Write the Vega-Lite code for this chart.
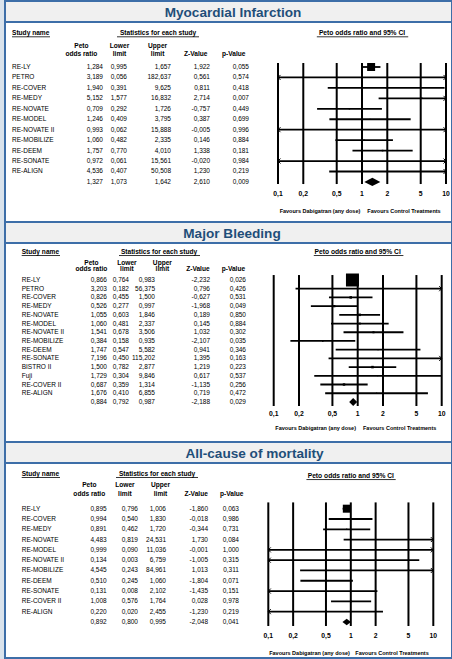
{
"$schema": "https://vega.github.io/schema/vega-lite/v6.json",
"background": "#dae3ec",
"padding": {"left": 4, "top": 0, "right": 0, "bottom": 0},
"spacing": 0,
"bounds": "flush",
"resolve": {"scale": {"size": "independent"}},
"config": {
  "view": {"stroke": null},
  "text": {"font": "Liberation Sans", "fontSize": 6.5, "color": "black"},
  "rule": {"color": "black"},
  "point": {"color": "black"},
  "square": {"color": "black"},
  "locale": {"number": {"decimal": ",", "thousands": ".", "grouping": [3], "currency": ["", " €"], "minus": "-"}}
},
"datasets": {
  "cols": [{"col":"or","line1":"Peto","line2":"odds ratio"},{"col":"lower","line1":"Lower","line2":"limit"},{"col":"upper","line1":"Upper","line2":"limit"},{"col":"z","line1":"","line2":"Z-Value"},{"col":"p","line1":"","line2":"p-Value"}],
  "ticks": [{"v":0.1},{"v":0.2},{"v":0.5},{"v":1},{"v":2},{"v":5},{"v":10}],
  "mi": [
    {"row":0,"study":"RE-LY","or":1.284,"lower":0.995,"upper":1.657,"z":1.922,"p":0.055,"weight":85},
    {"row":1,"study":"PETRO","or":3.189,"lower":0.056,"upper":182.637,"z":0.561,"p":0.574,"weight":0.3},
    {"row":2,"study":"RE-COVER","or":1.940,"lower":0.391,"upper":9.625,"z":0.811,"p":0.418,"weight":1.5},
    {"row":3,"study":"RE-MEDY","or":5.152,"lower":1.577,"upper":16.832,"z":2.714,"p":0.007,"weight":3},
    {"row":4,"study":"RE-NOVATE","or":0.709,"lower":0.292,"upper":1.726,"z":-0.757,"p":0.449,"weight":2.5},
    {"row":5,"study":"RE-MODEL","or":1.246,"lower":0.409,"upper":3.795,"z":0.387,"p":0.699,"weight":1.5},
    {"row":6,"study":"RE-NOVATE II","or":0.993,"lower":0.062,"upper":15.888,"z":-0.005,"p":0.996,"weight":0.3},
    {"row":7,"study":"RE-MOBILIZE","or":1.060,"lower":0.482,"upper":2.335,"z":0.146,"p":0.884,"weight":3},
    {"row":8,"study":"RE-DEEM","or":1.757,"lower":0.770,"upper":4.010,"z":1.338,"p":0.181,"weight":3.5},
    {"row":9,"study":"RE-SONATE","or":0.972,"lower":0.061,"upper":15.561,"z":-0.020,"p":0.984,"weight":0.3},
    {"row":10,"study":"RE-ALIGN","or":4.536,"lower":0.407,"upper":50.508,"z":1.230,"p":0.219,"weight":0.6},
    {"row":11,"study":"","or":1.327,"lower":1.073,"upper":1.642,"z":2.610,"p":0.009,"pooled":true}
  ],
  "mb": [
    {"row":0,"study":"RE-LY","or":0.866,"lower":0.764,"upper":0.983,"z":-2.232,"p":0.026,"weight":80},
    {"row":1,"study":"PETRO","or":3.203,"lower":0.182,"upper":56.375,"z":0.796,"p":0.426,"weight":0.3},
    {"row":2,"study":"RE-COVER","or":0.826,"lower":0.455,"upper":1.500,"z":-0.627,"p":0.531,"weight":3},
    {"row":3,"study":"RE-MEDY","or":0.526,"lower":0.277,"upper":0.997,"z":-1.968,"p":0.049,"weight":2.5},
    {"row":4,"study":"RE-NOVATE","or":1.055,"lower":0.603,"upper":1.846,"z":0.189,"p":0.850,"weight":3},
    {"row":5,"study":"RE-MODEL","or":1.060,"lower":0.481,"upper":2.337,"z":0.145,"p":0.884,"weight":1.8},
    {"row":6,"study":"RE-NOVATE II","or":1.541,"lower":0.678,"upper":3.506,"z":1.032,"p":0.302,"weight":2},
    {"row":7,"study":"RE-MOBILIZE","or":0.384,"lower":0.158,"upper":0.935,"z":-2.107,"p":0.035,"weight":1.2},
    {"row":8,"study":"RE-DEEM","or":1.747,"lower":0.547,"upper":5.582,"z":0.941,"p":0.346,"weight":0.9},
    {"row":9,"study":"RE-SONATE","or":7.196,"lower":0.450,"upper":115.202,"z":1.395,"p":0.163,"weight":0.2},
    {"row":10,"study":"BISTRO II","or":1.500,"lower":0.782,"upper":2.877,"z":1.219,"p":0.223,"weight":3},
    {"row":11,"study":"Fuji","or":1.729,"lower":0.304,"upper":9.846,"z":0.617,"p":0.537,"weight":0.5},
    {"row":12,"study":"RE-COVER II","or":0.687,"lower":0.359,"upper":1.314,"z":-1.135,"p":0.256,"weight":2.8},
    {"row":13,"study":"RE-ALIGN","or":1.676,"lower":0.410,"upper":6.855,"z":0.719,"p":0.472,"weight":0.7},
    {"row":14,"study":"","or":0.884,"lower":0.792,"upper":0.987,"z":-2.188,"p":0.029,"pooled":true}
  ],
  "ac": [
    {"row":0,"study":"RE-LY","or":0.895,"lower":0.796,"upper":1.006,"z":-1.860,"p":0.063,"weight":88},
    {"row":1,"study":"RE-COVER","or":0.994,"lower":0.540,"upper":1.830,"z":-0.018,"p":0.986,"weight":3},
    {"row":2,"study":"RE-MEDY","or":0.891,"lower":0.462,"upper":1.720,"z":-0.344,"p":0.731,"weight":2.5},
    {"row":3,"study":"RE-NOVATE","or":4.483,"lower":0.819,"upper":24.531,"z":1.730,"p":0.084,"weight":0.5},
    {"row":4,"study":"RE-MODEL","or":0.999,"lower":0.090,"upper":11.036,"z":-0.001,"p":1.000,"weight":0.2},
    {"row":5,"study":"RE-NOVATE II","or":0.134,"lower":0.003,"upper":6.759,"z":-1.005,"p":0.315,"weight":0.1},
    {"row":6,"study":"RE-MOBILIZE","or":4.545,"lower":0.243,"upper":84.961,"z":1.013,"p":0.311,"weight":0.2},
    {"row":7,"study":"RE-DEEM","or":0.510,"lower":0.245,"upper":1.060,"z":-1.804,"p":0.071,"weight":2},
    {"row":8,"study":"RE-SONATE","or":0.131,"lower":0.008,"upper":2.102,"z":-1.435,"p":0.151,"weight":0.2},
    {"row":9,"study":"RE-COVER II","or":1.008,"lower":0.576,"upper":1.764,"z":0.028,"p":0.978,"weight":3.5},
    {"row":10,"study":"RE-ALIGN","or":0.220,"lower":0.020,"upper":2.455,"z":-1.230,"p":0.219,"weight":0.3},
    {"row":11,"study":"","or":0.892,"lower":0.800,"upper":0.995,"z":-2.048,"p":0.041,"pooled":true}
  ]
},
"vconcat": [
  {
    "width": 447, "height": 21,
    "view": {"fill": "#f0f0f0", "stroke": "#3d6ea8", "strokeWidth": 2},
    "data": {"values": [{"title": "Myocardial Infarction"}]},
    "mark": {"type": "text", "fontSize": 13.6, "fontWeight": "bold", "color": "#1f4e79", "dx": 4.5, "dy": 1},
    "encoding": {"text": {"field": "title"}}
  },
  {
    "width": 447, "height": 200,
    "view": {"fill": "white", "stroke": "#3d6ea8", "strokeWidth": 2},
    "data": {"name": "mi"},
    "resolve": {"scale": {"x": "independent"}},
    "layer": [
      {"layer": [
        {"mark": {"type": "text", "align": "left", "dx": -69.4},
         "encoding": {"x": {"datum": "or", "type": "nominal", "axis": null, "scale": {"type": "point", "domain": ["or","lower","upper","z","p"], "range": [76.4, 228.8], "padding": 0}},
                      "y": {"field": "row", "type": "quantitative", "axis": null, "scale": {"domain": [-4.306, 14.833], "reverse": true, "nice": false, "zero": false}},
                      "text": {"field": "study"}}},
        {"mark": {"type": "text", "align": "right", "dx": 21.6}, "encoding": {"x": {"datum": "or", "type": "nominal"}, "y": {"field": "row", "type": "quantitative"}, "text": {"field": "or", "type": "quantitative", "format": ".3f"}}},
        {"mark": {"type": "text", "align": "right", "dx": 7.5}, "encoding": {"x": {"datum": "lower", "type": "nominal"}, "y": {"field": "row", "type": "quantitative"}, "text": {"field": "lower", "type": "quantitative", "format": ".3f"}}},
        {"mark": {"type": "text", "align": "right", "dx": 13.4}, "encoding": {"x": {"datum": "upper", "type": "nominal"}, "y": {"field": "row", "type": "quantitative"}, "text": {"field": "upper", "type": "quantitative", "format": ".3f"}}},
        {"mark": {"type": "text", "align": "right", "dx": 14.3}, "encoding": {"x": {"datum": "z", "type": "nominal"}, "y": {"field": "row", "type": "quantitative"}, "text": {"field": "z", "type": "quantitative", "format": ".3f"}}},
        {"mark": {"type": "text", "align": "right", "dx": 15.2}, "encoding": {"x": {"datum": "p", "type": "nominal"}, "y": {"field": "row", "type": "quantitative"}, "text": {"field": "p", "type": "quantitative", "format": ".3f"}}},
        {"data": {"name": "cols"}, "mark": {"type": "text", "fontWeight": "bold", "fontSize": 6.6},
         "encoding": {"x": {"field": "col", "type": "nominal"}, "y": {"datum": -2.01, "type": "quantitative"}, "text": {"field": "line1"}}},
        {"data": {"name": "cols"}, "mark": {"type": "text", "fontWeight": "bold", "fontSize": 6.6},
         "encoding": {"x": {"field": "col", "type": "nominal"}, "y": {"datum": -1.215, "type": "quantitative"}, "text": {"field": "line2"}}},
        {"data": {"values": [{"t": "Study name"}]}, "mark": {"type": "text", "align": "left", "fontWeight": "bold", "fontSize": 6.6, "dx": -69.4},
         "encoding": {"x": {"datum": "or", "type": "nominal"}, "y": {"datum": -3.25, "type": "quantitative"}, "text": {"field": "t"}}},
        {"data": {"values": [{"t": "Statistics for each study"}]}, "mark": {"type": "text", "fontWeight": "bold", "fontSize": 6.6, "dx": 0.4},
         "encoding": {"x": {"datum": "upper", "type": "nominal"}, "y": {"datum": -3.25, "type": "quantitative"}, "text": {"field": "t"}}},
        {"data": {"values": [{"t": "Study name"}]}, "mark": {"type": "rule", "strokeWidth": 0.8, "xOffset": -69.4, "x2Offset": -31.4},
         "encoding": {"x": {"datum": "or", "type": "nominal"}, "x2": {"datum": "or"}, "y": {"datum": -2.89, "type": "quantitative"}}},
        {"data": {"values": [{"t": "Statistics for each study"}]}, "mark": {"type": "rule", "strokeWidth": 0.8, "xOffset": -40.6, "x2Offset": 41.4},
         "encoding": {"x": {"datum": "upper", "type": "nominal"}, "x2": {"datum": "upper"}, "y": {"datum": -2.89, "type": "quantitative"}}}
      ]},
      {"layer": [
        {"data": {"name": "ticks"}, "mark": {"type": "rule", "strokeWidth": 2},
         "encoding": {"x": {"field": "v", "type": "quantitative", "axis": null, "scale": {"type": "log", "domain": [0.1, 10], "range": [273, 441], "clamp": true, "nice": false}},
                      "y": {"datum": -0.38, "type": "quantitative"}, "y2": {"datum": 11.2}}},
        {"data": {"name": "ticks"}, "mark": {"type": "text", "fontWeight": "bold", "fontSize": 6.8},
         "encoding": {"x": {"field": "v", "type": "quantitative"}, "y": {"datum": 12.15, "type": "quantitative"}, "text": {"field": "v", "type": "quantitative", "format": "~g"}}},
        {"data": {"values": [{"t": "Favours Dabigatran (any dose)"}]}, "mark": {"type": "text", "fontWeight": "bold", "fontSize": 5.5},
         "encoding": {"x": {"datum": 0.316, "type": "quantitative"}, "y": {"datum": 13.78, "type": "quantitative"}, "text": {"field": "t"}}},
        {"data": {"values": [{"t": "Favours Control Treatments"}]}, "mark": {"type": "text", "fontWeight": "bold", "fontSize": 5.5},
         "encoding": {"x": {"datum": 3.16, "type": "quantitative"}, "y": {"datum": 13.78, "type": "quantitative"}, "text": {"field": "t"}}},
        {"data": {"values": [{"t": "Peto odds ratio and 95% CI"}]}, "mark": {"type": "text", "fontWeight": "bold", "fontSize": 6.7},
         "encoding": {"x": {"datum": 1, "type": "quantitative"}, "y": {"datum": -3.25, "type": "quantitative"}, "text": {"field": "t"}}},
        {"data": {"values": [{"t": "Peto odds ratio and 95% CI"}]}, "mark": {"type": "rule", "strokeWidth": 0.8},
         "encoding": {"x": {"datum": 0.29, "type": "quantitative"}, "x2": {"datum": 3.55}, "y": {"datum": -2.89, "type": "quantitative"}}},
        {"transform": [{"filter": "!datum.pooled"}], "mark": {"type": "rule", "strokeWidth": 1.8},
         "encoding": {"x": {"field": "lower", "type": "quantitative"}, "x2": {"field": "upper"}, "y": {"field": "row", "type": "quantitative"}}},
        {"transform": [{"filter": "!datum.pooled && datum.lower < 0.1"}], "mark": {"type": "point", "shape": "M1,-1L0,0L1,1", "filled": false, "strokeWidth": 1, "size": 25, "opacity": 1},
         "encoding": {"x": {"datum": 0.1, "type": "quantitative"}, "y": {"field": "row", "type": "quantitative"}}},
        {"transform": [{"filter": "!datum.pooled && datum.upper > 10"}], "mark": {"type": "point", "shape": "M-1,-1L0,0L-1,1", "filled": false, "strokeWidth": 1, "size": 25, "opacity": 1},
         "encoding": {"x": {"datum": 10, "type": "quantitative"}, "y": {"field": "row", "type": "quantitative"}}},
        {"transform": [{"filter": "!datum.pooled"}], "mark": {"type": "square", "opacity": 1},
         "encoding": {"x": {"field": "or", "type": "quantitative"}, "y": {"field": "row", "type": "quantitative"}, "size": {"field": "weight", "type": "quantitative", "legend": null, "scale": {"domain": [0, 100], "range": [0, 75]}}}},
        {"transform": [{"filter": "datum.pooled"}], "mark": {"type": "point", "shape": "M-1,0L0,-0.52L1,0L0,0.52Z", "filled": true, "size": 256, "opacity": 1},
         "encoding": {"x": {"field": "or", "type": "quantitative"}, "y": {"field": "row", "type": "quantitative"}}}
      ]}
    ]
  },
  {
    "width": 447, "height": 21,
    "view": {"fill": "#f0f0f0", "stroke": "#3d6ea8", "strokeWidth": 2},
    "data": {"values": [{"title": "Major Bleeding"}]},
    "mark": {"type": "text", "fontSize": 13.6, "fontWeight": "bold", "color": "#1f4e79", "dx": 3.5, "dy": 1},
    "encoding": {"text": {"field": "title"}}
  },
  {
    "width": 447, "height": 199,
    "view": {"fill": "white", "stroke": "#3d6ea8", "strokeWidth": 2},
    "data": {"name": "mb"},
    "resolve": {"scale": {"x": "independent"}},
    "layer": [
      {"layer": [
        {"mark": {"type": "text", "align": "left", "dx": -69.7},
         "encoding": {"x": {"datum": "or", "type": "nominal", "axis": null, "scale": {"type": "point", "domain": ["or","lower","upper","z","p"], "range": [86.4, 228.4], "padding": 0}},
                      "y": {"field": "row", "type": "quantitative", "axis": null, "scale": {"domain": [-4.248, 18.6], "reverse": true, "nice": false, "zero": false}},
                      "text": {"field": "study"}}},
        {"mark": {"type": "text", "align": "right", "dx": 15.6}, "encoding": {"x": {"datum": "or", "type": "nominal"}, "y": {"field": "row", "type": "quantitative"}, "text": {"field": "or", "type": "quantitative", "format": ".3f"}}},
        {"mark": {"type": "text", "align": "right", "dx": 2.1}, "encoding": {"x": {"datum": "lower", "type": "nominal"}, "y": {"field": "row", "type": "quantitative"}, "text": {"field": "lower", "type": "quantitative", "format": ".3f"}}},
        {"mark": {"type": "text", "align": "right", "dx": -7.4}, "encoding": {"x": {"datum": "upper", "type": "nominal"}, "y": {"field": "row", "type": "quantitative"}, "text": {"field": "upper", "type": "quantitative", "format": ".3f"}}},
        {"mark": {"type": "text", "align": "right", "dx": 12.1}, "encoding": {"x": {"datum": "z", "type": "nominal"}, "y": {"field": "row", "type": "quantitative"}, "text": {"field": "z", "type": "quantitative", "format": ".3f"}}},
        {"mark": {"type": "text", "align": "right", "dx": 12.6}, "encoding": {"x": {"datum": "p", "type": "nominal"}, "y": {"field": "row", "type": "quantitative"}, "text": {"field": "p", "type": "quantitative", "format": ".3f"}}},
        {"data": {"name": "cols"}, "mark": {"type": "text", "fontWeight": "bold", "fontSize": 6.6},
         "encoding": {"x": {"field": "col", "type": "nominal"}, "y": {"datum": -1.99, "type": "quantitative"}, "text": {"field": "line1"}}},
        {"data": {"name": "cols"}, "mark": {"type": "text", "fontWeight": "bold", "fontSize": 6.6},
         "encoding": {"x": {"field": "col", "type": "nominal"}, "y": {"datum": -1.23, "type": "quantitative"}, "text": {"field": "line2"}}},
        {"data": {"values": [{"t": "Study name"}]}, "mark": {"type": "text", "align": "left", "fontWeight": "bold", "fontSize": 6.6, "dx": -69.7},
         "encoding": {"x": {"datum": "or", "type": "nominal"}, "y": {"datum": -3.21, "type": "quantitative"}, "text": {"field": "t"}}},
        {"data": {"values": [{"t": "Statistics for each study"}]}, "mark": {"type": "text", "fontWeight": "bold", "fontSize": 6.6, "dx": -3.4},
         "encoding": {"x": {"datum": "upper", "type": "nominal"}, "y": {"datum": -3.21, "type": "quantitative"}, "text": {"field": "t"}}},
        {"data": {"values": [{"t": "Study name"}]}, "mark": {"type": "rule", "strokeWidth": 0.8, "xOffset": -69.7, "x2Offset": -31.4},
         "encoding": {"x": {"datum": "or", "type": "nominal"}, "x2": {"datum": "or"}, "y": {"datum": -2.81, "type": "quantitative"}}},
        {"data": {"values": [{"t": "Statistics for each study"}]}, "mark": {"type": "rule", "strokeWidth": 0.8, "xOffset": -43.4, "x2Offset": 37.6},
         "encoding": {"x": {"datum": "upper", "type": "nominal"}, "x2": {"datum": "upper"}, "y": {"datum": -2.81, "type": "quantitative"}}}
      ]},
      {"layer": [
        {"data": {"name": "ticks"}, "mark": {"type": "rule", "strokeWidth": 2},
         "encoding": {"x": {"field": "v", "type": "quantitative", "axis": null, "scale": {"type": "log", "domain": [0.1, 10], "range": [268.7, 436.7], "clamp": true, "nice": false}},
                      "y": {"datum": -0.57, "type": "quantitative"}, "y2": {"datum": 14.47}}},
        {"data": {"name": "ticks"}, "mark": {"type": "text", "fontWeight": "bold", "fontSize": 6.8},
         "encoding": {"x": {"field": "v", "type": "quantitative"}, "y": {"datum": 15.35, "type": "quantitative"}, "text": {"field": "v", "type": "quantitative", "format": "~g"}}},
        {"data": {"values": [{"t": "Favours Dabigatran (any dose)"}]}, "mark": {"type": "text", "fontWeight": "bold", "fontSize": 5.5},
         "encoding": {"x": {"datum": 0.316, "type": "quantitative"}, "y": {"datum": 17.0, "type": "quantitative"}, "text": {"field": "t"}}},
        {"data": {"values": [{"t": "Favours Control Treatments"}]}, "mark": {"type": "text", "fontWeight": "bold", "fontSize": 5.5},
         "encoding": {"x": {"datum": 3.16, "type": "quantitative"}, "y": {"datum": 17.0, "type": "quantitative"}, "text": {"field": "t"}}},
        {"data": {"values": [{"t": "Peto odds ratio and 95% CI"}]}, "mark": {"type": "text", "fontWeight": "bold", "fontSize": 6.7},
         "encoding": {"x": {"datum": 1, "type": "quantitative"}, "y": {"datum": -3.21, "type": "quantitative"}, "text": {"field": "t"}}},
        {"data": {"values": [{"t": "Peto odds ratio and 95% CI"}]}, "mark": {"type": "rule", "strokeWidth": 0.8},
         "encoding": {"x": {"datum": 0.3, "type": "quantitative"}, "x2": {"datum": 3.5}, "y": {"datum": -2.81, "type": "quantitative"}}},
        {"transform": [{"filter": "!datum.pooled"}], "mark": {"type": "rule", "strokeWidth": 1.8},
         "encoding": {"x": {"field": "lower", "type": "quantitative"}, "x2": {"field": "upper"}, "y": {"field": "row", "type": "quantitative"}}},
        {"transform": [{"filter": "!datum.pooled && datum.lower < 0.1"}], "mark": {"type": "point", "shape": "M1,-1L0,0L1,1", "filled": false, "strokeWidth": 1, "size": 25, "opacity": 1},
         "encoding": {"x": {"datum": 0.1, "type": "quantitative"}, "y": {"field": "row", "type": "quantitative"}}},
        {"transform": [{"filter": "!datum.pooled && datum.upper > 10"}], "mark": {"type": "point", "shape": "M-1,-1L0,0L-1,1", "filled": false, "strokeWidth": 1, "size": 25, "opacity": 1},
         "encoding": {"x": {"datum": 10, "type": "quantitative"}, "y": {"field": "row", "type": "quantitative"}}},
        {"transform": [{"filter": "!datum.pooled"}], "mark": {"type": "square", "opacity": 1},
         "encoding": {"x": {"field": "or", "type": "quantitative"}, "y": {"field": "row", "type": "quantitative"}, "size": {"field": "weight", "type": "quantitative", "legend": null, "scale": {"domain": [0, 100], "range": [0, 211]}}}},
        {"transform": [{"filter": "datum.pooled"}], "mark": {"type": "point", "shape": "M-1,0L0,-1L1,0L0,1Z", "filled": true, "size": 64, "opacity": 1},
         "encoding": {"x": {"field": "or", "type": "quantitative"}, "y": {"field": "row", "type": "quantitative"}}}
      ]}
    ]
  },
  {
    "width": 447, "height": 21,
    "view": {"fill": "#f0f0f0", "stroke": "#3d6ea8", "strokeWidth": 2},
    "data": {"values": [{"title": "All-cause of mortality"}]},
    "mark": {"type": "text", "fontSize": 13.6, "fontWeight": "bold", "color": "#1f4e79", "dx": 26, "dy": 1},
    "encoding": {"text": {"field": "title"}}
  },
  {
    "width": 447, "height": 195,
    "view": {"fill": "white", "stroke": "#3d6ea8", "strokeWidth": 2},
    "data": {"name": "ac"},
    "resolve": {"scale": {"x": "independent"}},
    "layer": [
      {"layer": [
        {"mark": {"type": "text", "align": "left", "dx": -67.6},
         "encoding": {"x": {"datum": "or", "type": "nominal", "axis": null, "scale": {"type": "point", "domain": ["or","lower","upper","z","p"], "range": [84.3, 226.7], "padding": 0}},
                      "y": {"field": "row", "type": "quantitative", "axis": null, "scale": {"domain": [-4.437, 14.5], "reverse": true, "nice": false, "zero": false}},
                      "text": {"field": "study"}}},
        {"mark": {"type": "text", "align": "right", "dx": 17.4}, "encoding": {"x": {"datum": "or", "type": "nominal"}, "y": {"field": "row", "type": "quantitative"}, "text": {"field": "or", "type": "quantitative", "format": ".3f"}}},
        {"mark": {"type": "text", "align": "right", "dx": 13.1}, "encoding": {"x": {"datum": "lower", "type": "nominal"}, "y": {"field": "row", "type": "quantitative"}, "text": {"field": "lower", "type": "quantitative", "format": ".3f"}}},
        {"mark": {"type": "text", "align": "right", "dx": 5.5}, "encoding": {"x": {"datum": "upper", "type": "nominal"}, "y": {"field": "row", "type": "quantitative"}, "text": {"field": "upper", "type": "quantitative", "format": ".3f"}}},
        {"mark": {"type": "text", "align": "right", "dx": 11.9}, "encoding": {"x": {"datum": "z", "type": "nominal"}, "y": {"field": "row", "type": "quantitative"}, "text": {"field": "z", "type": "quantitative", "format": ".3f"}}},
        {"mark": {"type": "text", "align": "right", "dx": 7.3}, "encoding": {"x": {"datum": "p", "type": "nominal"}, "y": {"field": "row", "type": "quantitative"}, "text": {"field": "p", "type": "quantitative", "format": ".3f"}}},
        {"data": {"name": "cols"}, "mark": {"type": "text", "fontWeight": "bold", "fontSize": 6.6},
         "encoding": {"x": {"field": "col", "type": "nominal"}, "y": {"datum": -2.27, "type": "quantitative"}, "text": {"field": "line1"}}},
        {"data": {"name": "cols"}, "mark": {"type": "text", "fontWeight": "bold", "fontSize": 6.6},
         "encoding": {"x": {"field": "col", "type": "nominal"}, "y": {"datum": -1.4, "type": "quantitative"}, "text": {"field": "line2"}}},
        {"data": {"values": [{"t": "Study name"}]}, "mark": {"type": "text", "align": "left", "fontWeight": "bold", "fontSize": 6.6, "dx": -67.6},
         "encoding": {"x": {"datum": "or", "type": "nominal"}, "y": {"datum": -3.37, "type": "quantitative"}, "text": {"field": "t"}}},
        {"data": {"values": [{"t": "Statistics for each study"}]}, "mark": {"type": "text", "fontWeight": "bold", "fontSize": 6.6, "dx": -3.5},
         "encoding": {"x": {"datum": "upper", "type": "nominal"}, "y": {"datum": -3.37, "type": "quantitative"}, "text": {"field": "t"}}},
        {"data": {"values": [{"t": "Study name"}]}, "mark": {"type": "rule", "strokeWidth": 0.8, "xOffset": -67.6, "x2Offset": -29.3},
         "encoding": {"x": {"datum": "or", "type": "nominal"}, "x2": {"datum": "or"}, "y": {"datum": -3.03, "type": "quantitative"}}},
        {"data": {"values": [{"t": "Statistics for each study"}]}, "mark": {"type": "rule", "strokeWidth": 0.8, "xOffset": -44.5, "x2Offset": 37.5},
         "encoding": {"x": {"datum": "upper", "type": "nominal"}, "x2": {"datum": "upper"}, "y": {"datum": -3.03, "type": "quantitative"}}}
      ]},
      {"layer": [
        {"data": {"name": "ticks"}, "mark": {"type": "rule", "strokeWidth": 2},
         "encoding": {"x": {"field": "v", "type": "quantitative", "axis": null, "scale": {"type": "log", "domain": [0.1, 10], "range": [263.3, 428.3], "clamp": true, "nice": false}},
                      "y": {"datum": -0.61, "type": "quantitative"}, "y2": {"datum": 11.39}}},
        {"data": {"name": "ticks"}, "mark": {"type": "text", "fontWeight": "bold", "fontSize": 6.8},
         "encoding": {"x": {"field": "v", "type": "quantitative"}, "y": {"datum": 12.36, "type": "quantitative"}, "text": {"field": "v", "type": "quantitative", "format": "~g"}}},
        {"data": {"values": [{"t": "Favours Dabigatran (any dose)"}]}, "mark": {"type": "text", "fontWeight": "bold", "fontSize": 5.5},
         "encoding": {"x": {"datum": 0.316, "type": "quantitative"}, "y": {"datum": 13.98, "type": "quantitative"}, "text": {"field": "t"}}},
        {"data": {"values": [{"t": "Favours Control Treatments"}]}, "mark": {"type": "text", "fontWeight": "bold", "fontSize": 5.5},
         "encoding": {"x": {"datum": 3.16, "type": "quantitative"}, "y": {"datum": 13.98, "type": "quantitative"}, "text": {"field": "t"}}},
        {"data": {"values": [{"t": "Peto odds ratio and 95% CI"}]}, "mark": {"type": "text", "fontWeight": "bold", "fontSize": 6.7},
         "encoding": {"x": {"datum": 1, "type": "quantitative"}, "y": {"datum": -3.17, "type": "quantitative"}, "text": {"field": "t"}}},
        {"data": {"values": [{"t": "Peto odds ratio and 95% CI"}]}, "mark": {"type": "rule", "strokeWidth": 0.8},
         "encoding": {"x": {"datum": 0.29, "type": "quantitative"}, "x2": {"datum": 3.5}, "y": {"datum": -2.83, "type": "quantitative"}}},
        {"transform": [{"filter": "!datum.pooled"}], "mark": {"type": "rule", "strokeWidth": 1.8},
         "encoding": {"x": {"field": "lower", "type": "quantitative"}, "x2": {"field": "upper"}, "y": {"field": "row", "type": "quantitative"}}},
        {"transform": [{"filter": "!datum.pooled && datum.lower < 0.1"}], "mark": {"type": "point", "shape": "M1,-1L0,0L1,1", "filled": false, "strokeWidth": 1, "size": 25, "opacity": 1},
         "encoding": {"x": {"datum": 0.1, "type": "quantitative"}, "y": {"field": "row", "type": "quantitative"}}},
        {"transform": [{"filter": "!datum.pooled && datum.upper > 10"}], "mark": {"type": "point", "shape": "M-1,-1L0,0L-1,1", "filled": false, "strokeWidth": 1, "size": 25, "opacity": 1},
         "encoding": {"x": {"datum": 10, "type": "quantitative"}, "y": {"field": "row", "type": "quantitative"}}},
        {"transform": [{"filter": "!datum.pooled"}], "mark": {"type": "square", "opacity": 1},
         "encoding": {"x": {"field": "or", "type": "quantitative"}, "y": {"field": "row", "type": "quantitative"}, "size": {"field": "weight", "type": "quantitative", "legend": null, "scale": {"domain": [0, 100], "range": [0, 73]}}}},
        {"transform": [{"filter": "datum.pooled"}], "mark": {"type": "point", "shape": "M-1,0L0,-0.76L1,0L0,0.76Z", "filled": true, "size": 72, "opacity": 1},
         "encoding": {"x": {"field": "or", "type": "quantitative"}, "y": {"field": "row", "type": "quantitative"}}}
      ]}
    ]
  }
]
}
